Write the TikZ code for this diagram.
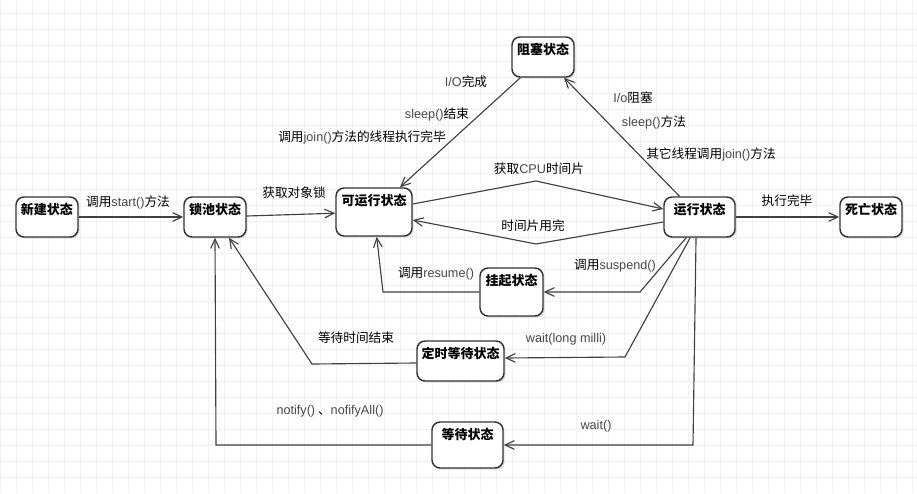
\documentclass[tikz,border=0pt]{standalone}
\usepackage{fontspec}
\usepackage{xcolor}
\usepackage{tikz}
\usetikzlibrary{arrows.meta,shadows}
\setmainfont{Noto Sans CJK SC}
\newfontfamily\latinfont{Liberation Sans}
\newcommand{\code}[1]{{\latinfont\color{black!72}#1}}
\definecolor{gridgrey}{rgb}{0.95, 0.95, 0.95}
\tikzset{%
  every state box/.style={
    draw=black!80,
    line width=1.1pt,
    rounded corners=6pt,
    fill=white,
    font=\bfseries\fontsize{9.75}{11}\selectfont,
    inner xsep=2pt,
    inner ysep=3pt,
    text height=10.25pt,
    text depth=13.75pt,
    drop shadow={shadow xshift=1.2pt, shadow yshift=-1.2pt, opacity=0.25}
  },
  box tall/.style={text depth=19.75pt},
  box mid/.style={text depth=18.25pt},
  edge label/.style={font=\fontsize{9.5}{11}\selectfont, inner sep=0pt},
  transition/.style={draw=black!75, line width=0.85pt, ->},
  grid line/.style={draw=gridgrey, line width=0.75pt},
}

\begin{document}
\begin{tikzpicture}[x=0.75pt, y=-0.75pt, >={Straight Barb[length=7pt,width=6.5pt]}]
            \useasboundingbox[fill=white] (0,0) rectangle (917,493);
            \foreach \gx in {0.5,16.5,...,917}
                \draw [grid line] (\gx,0) -- (\gx,493);
            \foreach \gy in {13.3,29.3,...,493}
                \draw [grid line] (0,\gy) -- (917,\gy);

            \foreach \n/\x/\y/\w/\s/\t in {xinjian/47/217/46.5pt/std/新建状态,
                                          suochi/215/217/46.5pt/std/锁池状态,
                                          keyunxing/374/212/57pt/tall/可运行状态,
                                          zusai/543/57/46.5pt/std/阻塞状态,
                                          yunxing/699.5/217/53.25pt/std/运行状态,
                                          siwang/871/217/46.5pt/std/死亡状态,
                                          guaqi/511.5/292/47.25pt/tall/挂起状态,
                                          dingshi/460.5/361/65.25pt/std/定时等待状态,
                                          dengdai/467.5/445/53.25pt/mid/等待状态}
                \node [every state box/.try, box \s/.try, minimum width=\w] (\n) at (\x,\y) {\t};

            \foreach \n/\x/\y/\t in {start/128/202/{调用\code{start()}方法},
                                    suo/294/193/{获取对象锁},
                                    cpu/539/169/{获取\code{CPU}时间片},
                                    pian/533/226/{时间片用完},
                                    io/466/82/{\code{I/O}完成},
                                    sleepend/437/114/{\code{sleep()}结束},
                                    joinend/362/137/{调用\code{join()}方法的线程执行完毕},
                                    iozu/633/98/{\code{I/o}阻塞},
                                    sleep/654/122/{\code{sleep()}方法},
                                    join/711/154/{其它线程调用\code{join()}方法},
                                    wan/787/201/{执行完毕},
                                    resume/436/274/{调用\code{resume()}},
                                    suspend/615/266/{调用\code{suspend()}},
                                    waitlong/566/339/{\code{wait(long milli)}},
                                    timeup/356/338/{等待时间结束},
                                    notify/330/411/{\code{notify()} 、\code{nofifyAll()}},
                                    wait/596/426/{\code{wait()}}}
                \node [edge label] (lbl-\n) at (\x,\y) {\t};

            \draw [transition] (xinjian) -- (suochi);
            \draw [transition] (suochi) -- (keyunxing);
            \draw [transition] ([yshift=6pt]keyunxing.east) -- (536,181) -- ([yshift=6pt]yunxing.west);
            \draw [transition] ([yshift=-3.75pt]yunxing.west) -- (536,244) -- ([yshift=-6pt]keyunxing.east);
            \draw [transition] ([xshift=-17pt]zusai.south) -- ([xshift=19.5pt]keyunxing.north);
            \draw [transition] ([xshift=-15pt]yunxing.north) -- ([xshift=15.75pt]zusai.south);
            \draw [transition] (yunxing) -- (siwang);
            \draw [transition] ([xshift=-10pt]yunxing.south) -- (640,292) -- (guaqi.east);
            \draw [transition] (guaqi.west) -- (383,292) -- ([xshift=2pt]keyunxing.south);
            \draw [transition] ([xshift=-7pt]yunxing.south) -- (625,357) -- ([yshift=2.25pt]dingshi.east);
            \draw [transition] ([yshift=-1.5pt]dingshi.west) -- (312,364) -- ([xshift=10.5pt]suochi.south);
            \draw [transition] ([xshift=-2.6pt]yunxing.south) -- (693,445) -- (dengdai.east);
            \draw [transition] (dengdai.west) -- (216,445) -- (suochi.south);
\end{tikzpicture}
\end{document}
